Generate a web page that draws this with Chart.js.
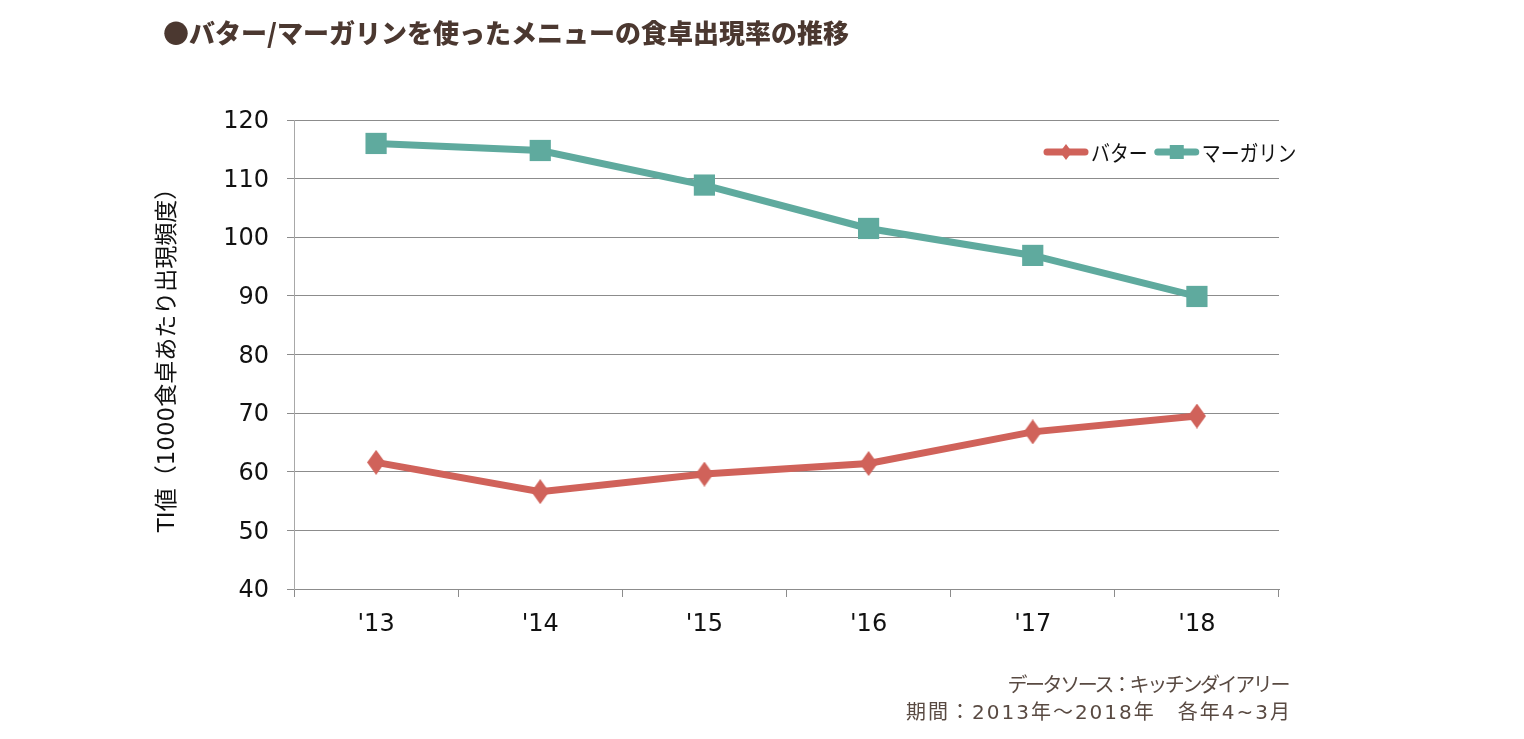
<!DOCTYPE html>
<html><head><meta charset="utf-8">
<script src="https://cdn.jsdelivr.net/npm/chart.js@4"></script>
<style>
html,body{margin:0;padding:0;background:#fff;width:1524px;height:739px;overflow:hidden;}
#wrap{position:relative;width:1524px;height:739px;}
canvas{position:absolute;left:0;top:0;}
#title{position:absolute;left:163px;top:13px;font-family:"Noto Sans CJK JP";font-weight:900;font-size:26px;color:#4b3830;white-space:nowrap;line-height:38px;}
.note{position:absolute;right:234px;font-family:"DejaVu Sans","Noto Sans CJK JP";font-size:20px;color:#594a42;white-space:nowrap;line-height:27px;}
</style></head>
<body><div id="wrap"><canvas id="c" width="1524" height="739"></canvas>
<div id="title">●バター/マーガリンを使ったメニューの食卓出現率の推移</div>
<div class="note" style="top:672px;letter-spacing:-2.4px;right:236px">データソース：キッチンダイアリー</div>
<div class="note" style="top:699px;letter-spacing:2px;right:232px">期間：2013年～2018年　各年4~3月</div>
</div>
<script>
const categories = ["'13", "'14", "'15", "'16", "'17", "'18"];
const seriesNames = ["バター", "マーガリン"];
const butterValues = [61.6, 56.6, 59.6, 61.4, 66.8, 69.5];
const margarineValues = [116.0, 114.8, 108.9, 101.5, 96.9, 89.9];
const yAxisTitle = "TI値（1000食卓あたり出現頻度）";
const yMin = 40, yMax = 120, yStep = 10;

const BUTTER = '#D0625A';
const MARG = '#5FAA9E';

function diamond(w, h, color) {
  const c = document.createElement('canvas');
  c.width = w; c.height = h;
  const g = c.getContext('2d');
  g.fillStyle = color;
  g.beginPath();
  g.moveTo(w / 2, 0); g.lineTo(w, h / 2); g.lineTo(w / 2, h); g.lineTo(0, h / 2);
  g.closePath(); g.fill();
  return c;
}
const diamondBig = diamond(18, 25, BUTTER);

const legendPlugin = {
  id: 'lineLegend',
  afterDraw(chart) {
    const ctx = chart.ctx;
    const y = 152;
    const sx = 0.86;
    let x = 1043;
    ctx.save();
    ctx.font = '22px "Noto Sans CJK JP"';
    ctx.textBaseline = 'middle';
    chart.data.datasets.forEach((ds, i) => {
      const len = 46;
      ctx.strokeStyle = ds.borderColor;
      ctx.lineWidth = 7;
      ctx.lineCap = 'round';
      ctx.beginPath(); ctx.moveTo(x + 4, y); ctx.lineTo(x + len - 4, y); ctx.stroke();
      const cx = x + len / 2;
      ctx.fillStyle = ds.borderColor;
      if (i === 0) {
        ctx.beginPath();
        ctx.moveTo(cx, y - 8); ctx.lineTo(cx + 6, y); ctx.lineTo(cx, y + 8); ctx.lineTo(cx - 6, y);
        ctx.closePath(); ctx.fill();
      } else {
        ctx.fillRect(cx - 7, y - 7, 14, 14);
      }
      const tx = x + len + 2;
      ctx.save();
      ctx.translate(tx, y);
      ctx.scale(sx, 1);
      ctx.fillStyle = '#111';
      ctx.textAlign = 'left';
      ctx.fillText(ds.label, 0, 1);
      ctx.restore();
      x = tx + ctx.measureText(ds.label).width * sx + 6;
    });
    ctx.restore();
  }
};

new Chart(document.getElementById('c'), {
  type: 'line',
  data: {
    labels: categories,
    datasets: [
      { label: seriesNames[0], data: butterValues, borderColor: BUTTER, backgroundColor: BUTTER,
        borderWidth: 7, pointStyle: diamondBig, pointRadius: 12, pointHoverRadius: 12, pointBorderWidth: 0, tension: 0 },
      { label: seriesNames[1], data: margarineValues, borderColor: MARG, backgroundColor: MARG,
        borderWidth: 7, pointStyle: 'rect', pointRadius: 15, pointHoverRadius: 15, pointBorderWidth: 0, tension: 0 }
    ]
  },
  options: {
    responsive: false,
    animation: false,
    layout: { padding: { left: 153, right: 245, top: 120, bottom: 0 } },
    plugins: { legend: { display: false }, tooltip: { enabled: false }, title: { display: false } },
    scales: {
      x: {
        type: 'category', offset: true,
        grid: { display: true, drawOnChartArea: false, drawTicks: true, tickLength: 8, offset: true, color: '#8c8c8c' },
        border: { display: true, color: '#8c8c8c' },
        ticks: { font: { family: 'DejaVu Sans', size: 24 }, color: '#111', padding: 13, maxRotation: 0, autoSkip: false },
        afterFit(s) { s.height = 150; }
      },
      y: {
        min: yMin, max: yMax,
        ticks: { stepSize: yStep, font: { family: 'DejaVu Sans', size: 24 }, color: '#111', padding: 18, labelOffset: 2 },
        grid: { color: '#8c8c8c', tickLength: 7, drawTicks: true },
        border: { display: true, color: '#a8a8a8' },
        title: { display: true, text: yAxisTitle, font: { family: '"DejaVu Sans", "Noto Sans CJK JP"', size: 23 }, color: '#111', padding: { top: 1, bottom: 20 } },
        afterFit(s) { s.width = 141; }
      }
    }
  },
  plugins: [legendPlugin]
});
</script>
</body></html>
